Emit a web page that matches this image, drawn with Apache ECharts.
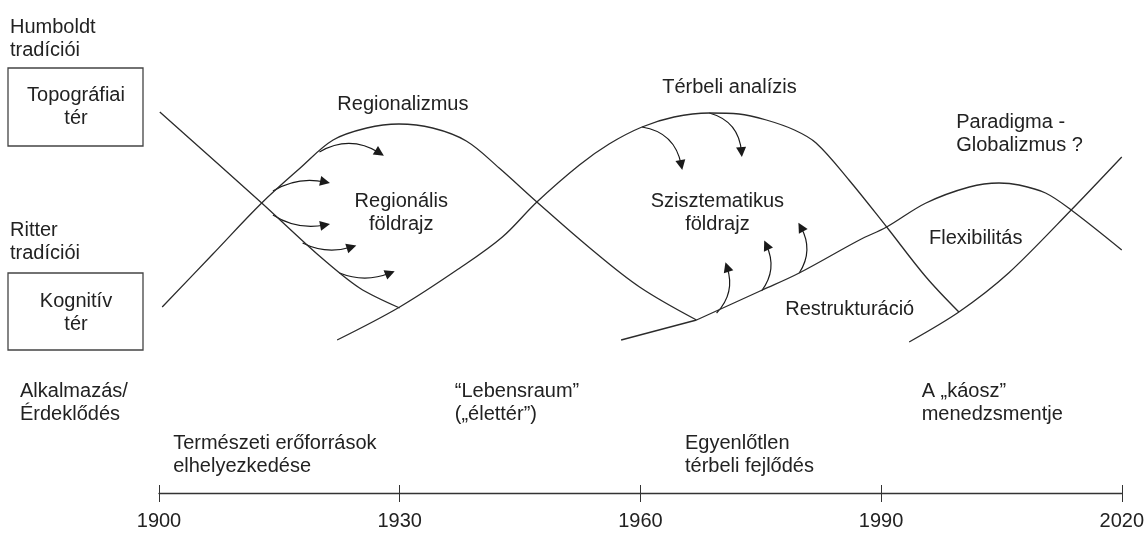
<!DOCTYPE html>
<html>
<head>
<meta charset="utf-8">
<script src="https://cdn.jsdelivr.net/npm/echarts@6/dist/echarts.min.js"></script>
<style>
html, body { margin: 0; background: #fff; }
#chart { width: 1147px; height: 533px; }
</style>
</head>
<body>
<div id="chart"></div>
<script>
// curves: [year, height above the time axis]
const kornyezettan = [[1900.1, 381], [1912.8, 290], [1920.0, 237], [1925.0, 205], [1930.0, 185]];
const regionalizmus = [[1900.4, 186], [1906.6, 238], [1912.8, 290], [1917.6, 325], [1921.7, 353], [1925.9, 365], [1929.9, 369],
    [1934.1, 365], [1938.3, 352], [1942.4, 325], [1947.1, 291], [1953.7, 245], [1959.9, 206], [1967.0, 173]];
const terbeli = [[1922.2, 153], [1930.0, 186], [1937.5, 225], [1942.8, 256], [1947.1, 291], [1952.4, 328], [1956.1, 349],
    [1960.2, 366], [1964.2, 376], [1968.6, 380], [1972.3, 379], [1975.7, 373], [1979.2, 363], [1981.9, 350], [1986.0, 313],
    [1990.7, 266], [1995.6, 216], [1999.7, 181]];
const restrukturacio = [[1957.6, 153], [1967.0, 173]];
const flexibilitas = [[1967.0, 173], [1975.2, 203], [1979.8, 220], [1987.3, 253], [1990.7, 266], [1995.6, 290], [2001.0, 306],
    [2004.7, 310], [2007.2, 308], [2010.5, 300], [2013.7, 283], [2020, 243]];
const globalizmus = [[1993.5, 151], [1999.7, 181], [2005.9, 220], [2013.7, 283], [2020, 336]];

// arrows: [from, to]
const regionArrows = [
    [[1920.0, 341], [1927.5, 340]],
    [[1914.2, 302], [1920.7, 311]],
    [[1914.2, 278], [1920.7, 268]],
    [[1917.9, 250], [1924.0, 246]],
    [[1922.5, 220], [1928.8, 220]]
];
const terbeliArrows = [
    [[1960.2, 366], [1965.1, 328]],
    [[1968.6, 380], [1972.6, 341]]
];
const restrArrows = [
    [[1969.5, 180], [1970.8, 226]],
    [[1975.1, 202], [1975.7, 248]],
    [[1979.8, 220], [1980.0, 266]]
];
const regionBend = [0.3, 0.2, -0.2, -0.2, -0.2];
const terbeliBend = [0.35, 0.35];
const restrBend = [-0.3, -0.3, -0.3];

// labels: [text, year, height, align]
const labels = [
    ['Környezettan', 1899.5, 406, 'left'],
    ['Regionalizmus', 1930.4, 389, 'center'],
    ['Regionális\nföldrajz', 1930.2, 280, 'center'],
    ['Térbeli analízis', 1971.1, 406, 'center'],
    ['Szisztematikus\nföldrajz', 1969.6, 280, 'center'],
    ['Paradigma -\nGlobalizmus ?', 1999.3, 359, 'left'],
    ['Flexibilitás', 2001.8, 255, 'center'],
    ['Restrukturáció', 1986.1, 184, 'center'],
    ['\u201cLebensraum\u201d\n(\u201eélettér\u201d)', 1936.8, 90, 'left'],
    ['Természeti erőforrások\nelhelyezkedése', 1901.7, 38, 'left'],
    ['Egyenlőtlen\ntérbeli fejlődés', 1965.5, 38, 'left'],
    ['A \u201ekáosz\u201d\nmenedzsmentje', 1995.0, 90, 'left']
];

const font = 'Liberation Sans, Arial, sans-serif';
const ink = '#222';

function curve(data, smooth) {
    return {
        type: 'line', data, smooth, symbol: 'none', silent: true,
        lineStyle: { color: '#2b2b2b', width: 1.3 }
    };
}

function arrows(list, bends) {
    return {
        type: 'lines', coordinateSystem: 'cartesian2d', silent: true,
        symbol: ['none', 'triangle'], symbolSize: [0, 10],
        lineStyle: { color: '#1a1a1a', width: 1.2, opacity: 1 },
        data: list.map((c, i) => ({ coords: c, lineStyle: { curveness: bends[i] } }))
    };
}

function leftText(text, x, y, align) {
    return {
        type: 'text', silent: true,
        style: { text, x, y, fill: ink, font: '20px ' + font, align: align || 'left', verticalAlign: 'middle', lineHeight: 23 }
    };
}

const chart = echarts.init(document.getElementById('chart'));
chart.setOption({
    animation: false,
    grid: { left: 159, right: 24, top: 0, bottom: 40 },
    xAxis: [{
        type: 'value', min: 1900, max: 2020, interval: 30,
        splitLine: { show: false },
        axisLine: { lineStyle: { color: '#333', width: 1.3 } },
        axisTick: { length: 9, lineStyle: { color: '#333' } },
        axisLabel: { fontSize: 20, fontFamily: font, color: ink, margin: 18, formatter: v => String(v) }
    }, {
        type: 'value', min: 1900, max: 2020, interval: 30, position: 'bottom',
        splitLine: { show: false },
        axisLine: { show: false },
        axisTick: { inside: true, length: 8, lineStyle: { color: '#333' } },
        axisLabel: { show: false }
    }],
    yAxis: { type: 'value', min: 0, max: 493, show: false },
    graphic: [
        leftText('Humboldt\ntradíciói', 10, 39),
        { type: 'rect', shape: { x: 8, y: 68, width: 135, height: 78 }, style: { fill: 'none', stroke: '#444', lineWidth: 1.3 } },
        leftText('Topográfiai\ntér', 76, 107, 'center'),
        leftText('Ritter\ntradíciói', 10, 242),
        { type: 'rect', shape: { x: 8, y: 273, width: 135, height: 77 }, style: { fill: 'none', stroke: '#444', lineWidth: 1.3 } },
        leftText('Kognitív\ntér', 76, 313, 'center'),
        leftText('Alkalmazás/\nÉrdeklődés', 20, 403)
    ],
    series: [
        curve(kornyezettan, 0.3),
        curve(regionalizmus, 0.35),
        curve(terbeli, 0.35),
        curve(restrukturacio, false),
        curve(flexibilitas, 0.35),
        curve(globalizmus, 0.3),
        arrows(regionArrows, regionBend),
        arrows(terbeliArrows, terbeliBend),
        arrows(restrArrows, restrBend),
        {
            type: 'scatter', silent: true, symbolSize: 1,
            itemStyle: { color: 'rgba(0,0,0,0)', opacity: 1 },
            data: labels.map(([text, x, y, align]) => ({
                value: [x, y],
                label: {
                    show: true, formatter: text,
                    position: align === 'left' ? 'right' : 'inside',
                    distance: 0, align,
                    fontSize: 20, fontFamily: font, color: ink, lineHeight: 23
                }
            }))
        }
    ]
});
</script>
</body>
</html>
